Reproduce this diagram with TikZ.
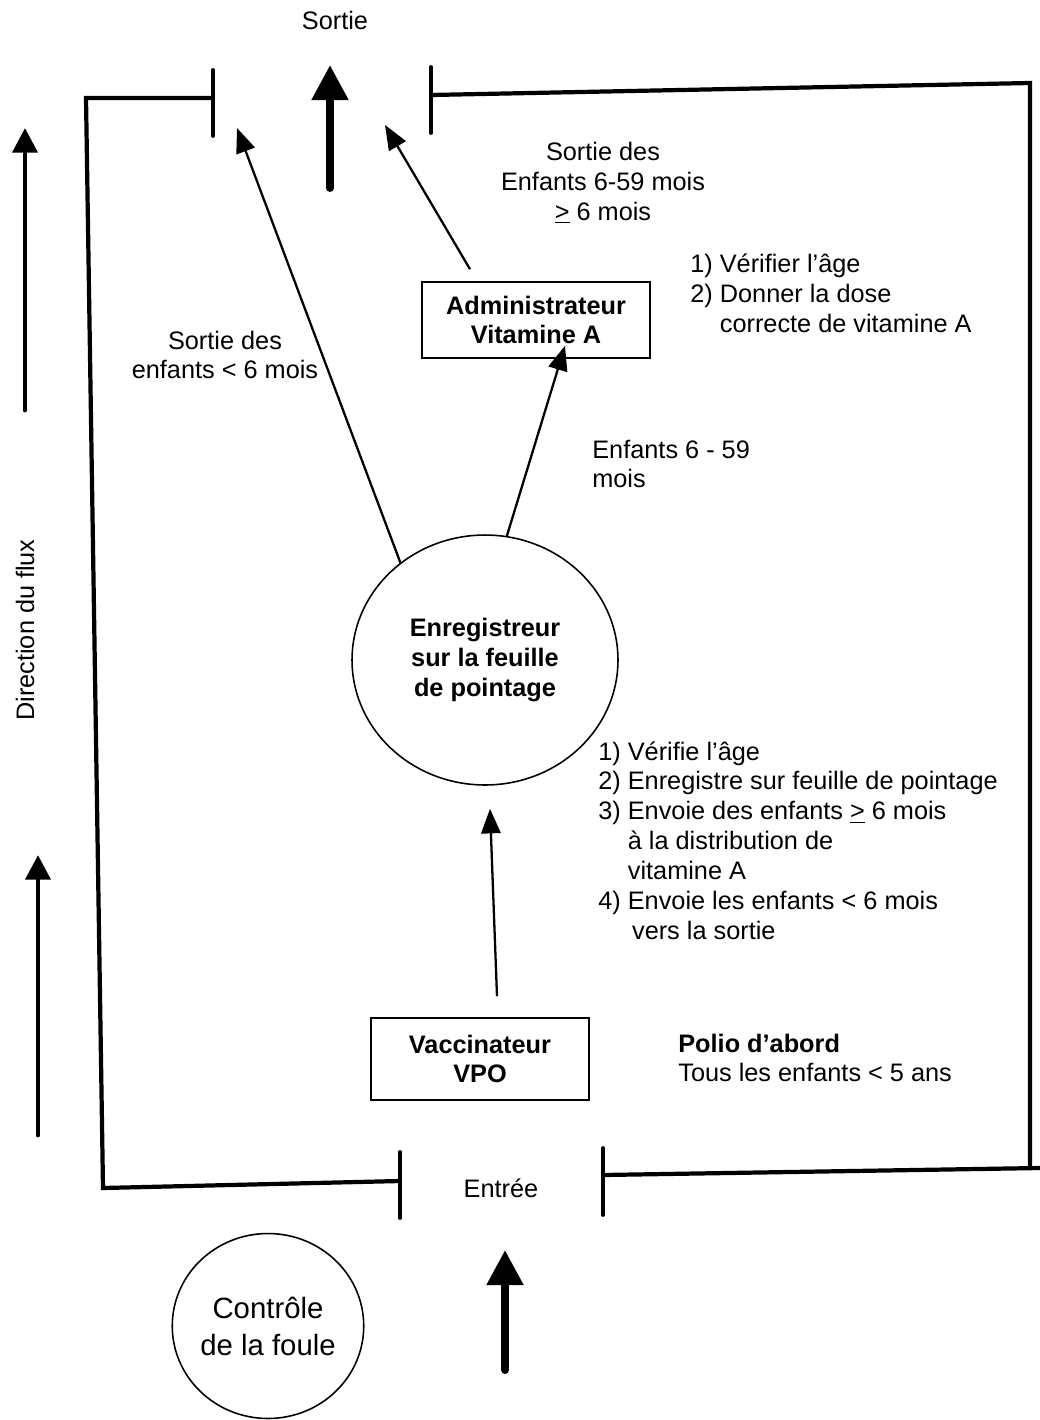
\documentclass[tikz,border=0pt]{standalone}
\usepackage{fontspec}
\setmainfont{Liberation Sans}
\usepackage{tikz}
\usetikzlibrary{positioning,arrows.meta,shapes.geometric,calc}

\begin{document}
\begin{tikzpicture}[x=0.02cm,y=-0.02cm,font=\fontsize{14.4}{17}\selectfont,
    wall/.style={line width=2.4pt},
    post/.style={line width=2.2pt,line cap=round},
    bigarrow/.style={line width=4.5pt,line cap=round,-{Triangle[length=20pt,width=20pt]}},
    flowarrow/.style={line width=2.8pt,line cap=round,-{Triangle[length=14pt,width=14pt]}},
    link/.style={line width=1.3pt,-{Triangle[length=14pt,width=11pt]}},
    station/.style={draw,line width=0.9pt,inner sep=0pt,align=center,
                    font=\fontsize{14.4}{17}\selectfont\bfseries},
    note/.style={align=left,inner sep=0pt}]
            \useasboundingbox (0,0) rectangle (1040,1420);
            % Murs de la salle
            \draw[wall] (213,98) -- (86,98) -- (103,1188) -- (400,1181);
            \draw[wall] (431,95) -- (1030,83) -- (1030,1168);
            \draw[wall] (603,1175) -- (1040,1168);
            \foreach \x/\ya/\yb in {213/70/136,431/67/133,400/1152/1218,603/1148/1215}{
                \draw[post] (\x,\ya) -- (\x,\yb);
            }
            % Sortie et entree
            \node (sortie) at (335,20) {Sortie};
            \node (entree) at (501,1188) {Entrée};
            \coordinate (sortieBas) at (330,188);
            \coordinate (sortieHaut) at (330,65);
            \coordinate (entreeBas) at (505,1370);
            \coordinate (entreeHaut) at (505,1250);
            \draw[bigarrow] (sortieBas) -- (sortieHaut);
            \draw[bigarrow] (entreeBas) -- (entreeHaut);
            % Direction du flux
            \foreach \x/\ya/\yb [count=\i] in {25/410/128,38/1135/855}{
                \coordinate (fluxBas\i) at (\x,\ya);
                \coordinate (fluxHaut\i) at (\x,\yb);
                \draw[flowarrow] (fluxBas\i) -- (fluxHaut\i);
            }
            \node[rotate=90] (direction) at (25,630) {Direction du flux};
            % Postes
            \node[station,minimum width=4.56cm,minimum height=1.52cm] (admin) at (536,320)
                {Administrateur\\Vitamine A};
            \node[station,ellipse,minimum width=5.32cm,minimum height=5cm] (enreg) at (485,660)
                {Enregistreur\\sur la feuille\\de pointage};
            \node[station,minimum width=4.36cm,minimum height=1.64cm] (vacc) at (480,1059)
                {Vaccinateur\\VPO};
            \node[draw,ellipse,line width=0.9pt,inner sep=0pt,align=center,
                  minimum width=3.8cm,minimum height=3.7cm,
                  font=\fontsize{16.7}{21}\selectfont] (foule) at (268,1326)
                {Contrôle\\de la foule};
            % Textes
            \node[align=center] (sortieGrands) at (603,183)
                {Sortie des\\Enfants 6-59 mois\\\underline{>} 6 mois};
            \node[align=center] (sortiePetits) at (225,355) {Sortie des\\enfants < 6 mois};
            \node[note,anchor=west] (tachesAdmin) at (690,296)
                {1)~Vérifier l’âge\\2)~Donner la dose\\\phantom{2)~}correcte de vitamine A};
            \node[note,anchor=west] (groupe) at (592,464) {Enfants 6 - 59\\mois};
            \node[note,anchor=west] (tachesEnreg) at (598,843)
                {1)~Vérifie l’âge\\2)~Enregistre sur feuille de pointage\\
                 3)~Envoie des enfants \underline{>} 6 mois\\\phantom{3)~}à la distribution de\\
                 \phantom{3)~}vitamine A\\4)~Envoie les enfants < 6 mois\\
                 \phantom{4)~}\,vers la sortie};
            \node[note,anchor=west] (polio) at (678,1058)
                {\textbf{Polio d’abord}\\Tous les enfants < 5 ans};
            % Parcours des enfants
            \coordinate (sortieG) at (237,128);
            \coordinate (sortieD) at (385,125);
            \draw[link] ($(vacc.north)+(17,-21)$) -- ($(enreg.south)+(5,23)$);
            \draw[link] (enreg.80) -- ($(admin.south)+(29,-13)$);
            \draw[link] (enreg.131) -- (sortieG);
            \draw[link] ($(admin.north)+(-66,-12)$) -- (sortieD);
        \end{tikzpicture}
\end{document}
